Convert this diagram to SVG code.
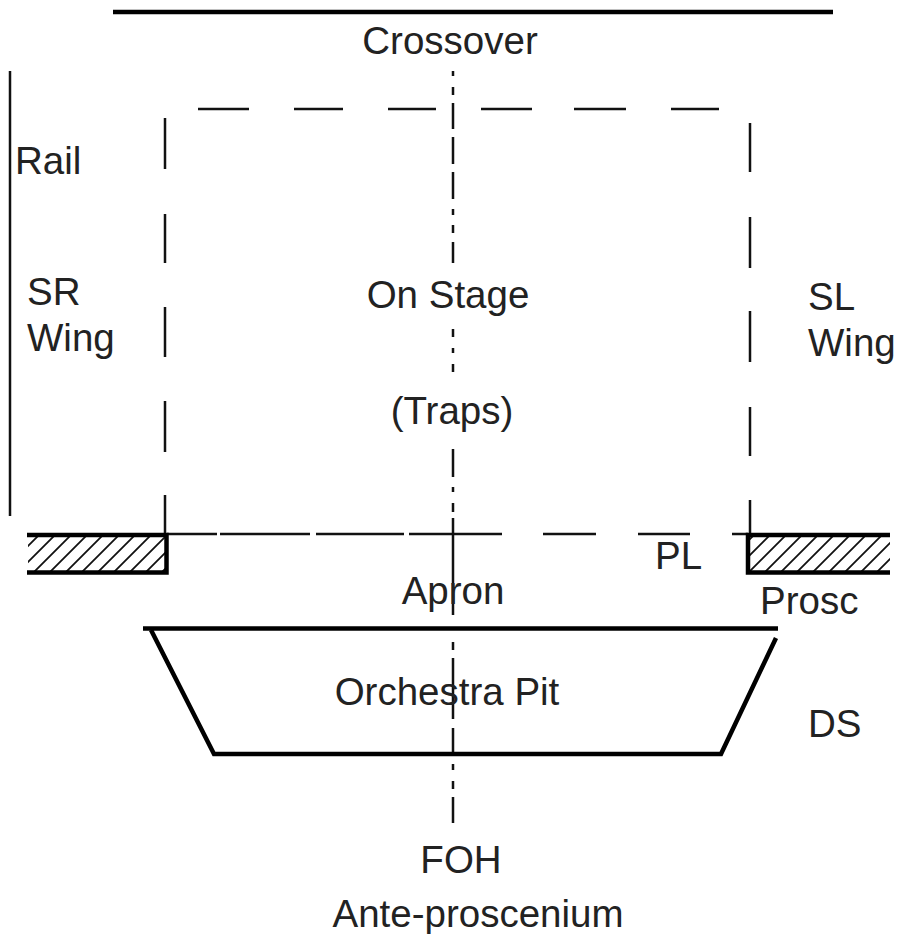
<svg xmlns="http://www.w3.org/2000/svg" width="898" height="934" viewBox="0 0 898 934">
<style>
text{font-family:"Liberation Sans",Arial,sans-serif;font-size:38.5px;fill:#222}
.m{text-anchor:middle}
.thin{stroke:#111;stroke-width:2.5;fill:none}
.thick{stroke:#000;stroke-width:4.5;fill:none}
.hatch{stroke:#111;stroke-width:1.8;fill:none}
</style>
<defs>
<pattern id="hl" width="16" height="16" patternUnits="userSpaceOnUse" x="14" y="0"><path class="hatch" d="M-4 20L20 -4M-4 4L4 -4M12 20L20 12"/></pattern>
<pattern id="hr" width="16" height="16" patternUnits="userSpaceOnUse" x="9" y="0"><path class="hatch" d="M-4 20L20 -4M-4 4L4 -4M12 20L20 12"/></pattern>
</defs>
<rect width="898" height="934" fill="#fff"/>
<g id="connectors">
<path class="thick" d="M113 12H833"/>
<path class="thin" d="M10 71V516"/>
<path class="thin" d="M198 109H249M294 109H343M388 109H436M481 109H532M574 109H626M671 109H719"/>
<path class="thin" d="M165 118V169M165 214V263M165 307V357M165 401V452M165 495V534"/>
<path class="thin" d="M750 123V172M750 217V268M750 311V362M750 407V456M750 500V535"/>
<path class="thin" d="M453 71V76M453 87V95M453 103V129M453 137V164M453 172V199M453 209V215M453 225V233M453 242V263M453 329V337M453 348V353M453 364V372M453 449V477M453 487V492M453 503V512M453 518V615M453 642V650M453 658V719M453 728V754M453 764V770M453 781V789M453 797V823"/>
<path class="thin" d="M167 534H217M220 534H310M316 534H404M409 534H502M543 534H596M638 534H690M732 534H748"/>
</g>
<g id="prosc-sr">
<rect x="28" y="535" width="138" height="38" fill="url(#hl)"/>
<path class="thick" d="M27 535H166.500V572.500H27"/>
</g>
<g id="prosc-sl">
<rect x="749" y="535" width="141" height="38" fill="url(#hr)"/>
<path class="thick" d="M890 535H748V572.500H890"/>
</g>
<g id="pit">
<path class="thick" d="M143 628.500H778"/>
<path class="thick" d="M151 630L214 754H721L776 638"/>
</g>
<g id="labels">
<text class="m" x="450" y="54">Crossover</text>
<text x="15" y="174">Rail</text>
<text x="27" y="305">SR</text>
<text x="27" y="351">Wing</text>
<text class="m" x="448" y="308">On Stage</text>
<text class="m" x="452" y="424">(Traps)</text>
<text x="808" y="310">SL</text>
<text x="808" y="356">Wing</text>
<text x="655" y="569">PL</text>
<text class="m" x="453" y="604">Apron</text>
<text x="760" y="614">Prosc</text>
<text class="m" x="447" y="705">Orchestra Pit</text>
<text x="808" y="737">DS</text>
<text class="m" x="461" y="873">FOH</text>
<text class="m" x="478" y="927">Ante-proscenium</text>
</g>
</svg>
